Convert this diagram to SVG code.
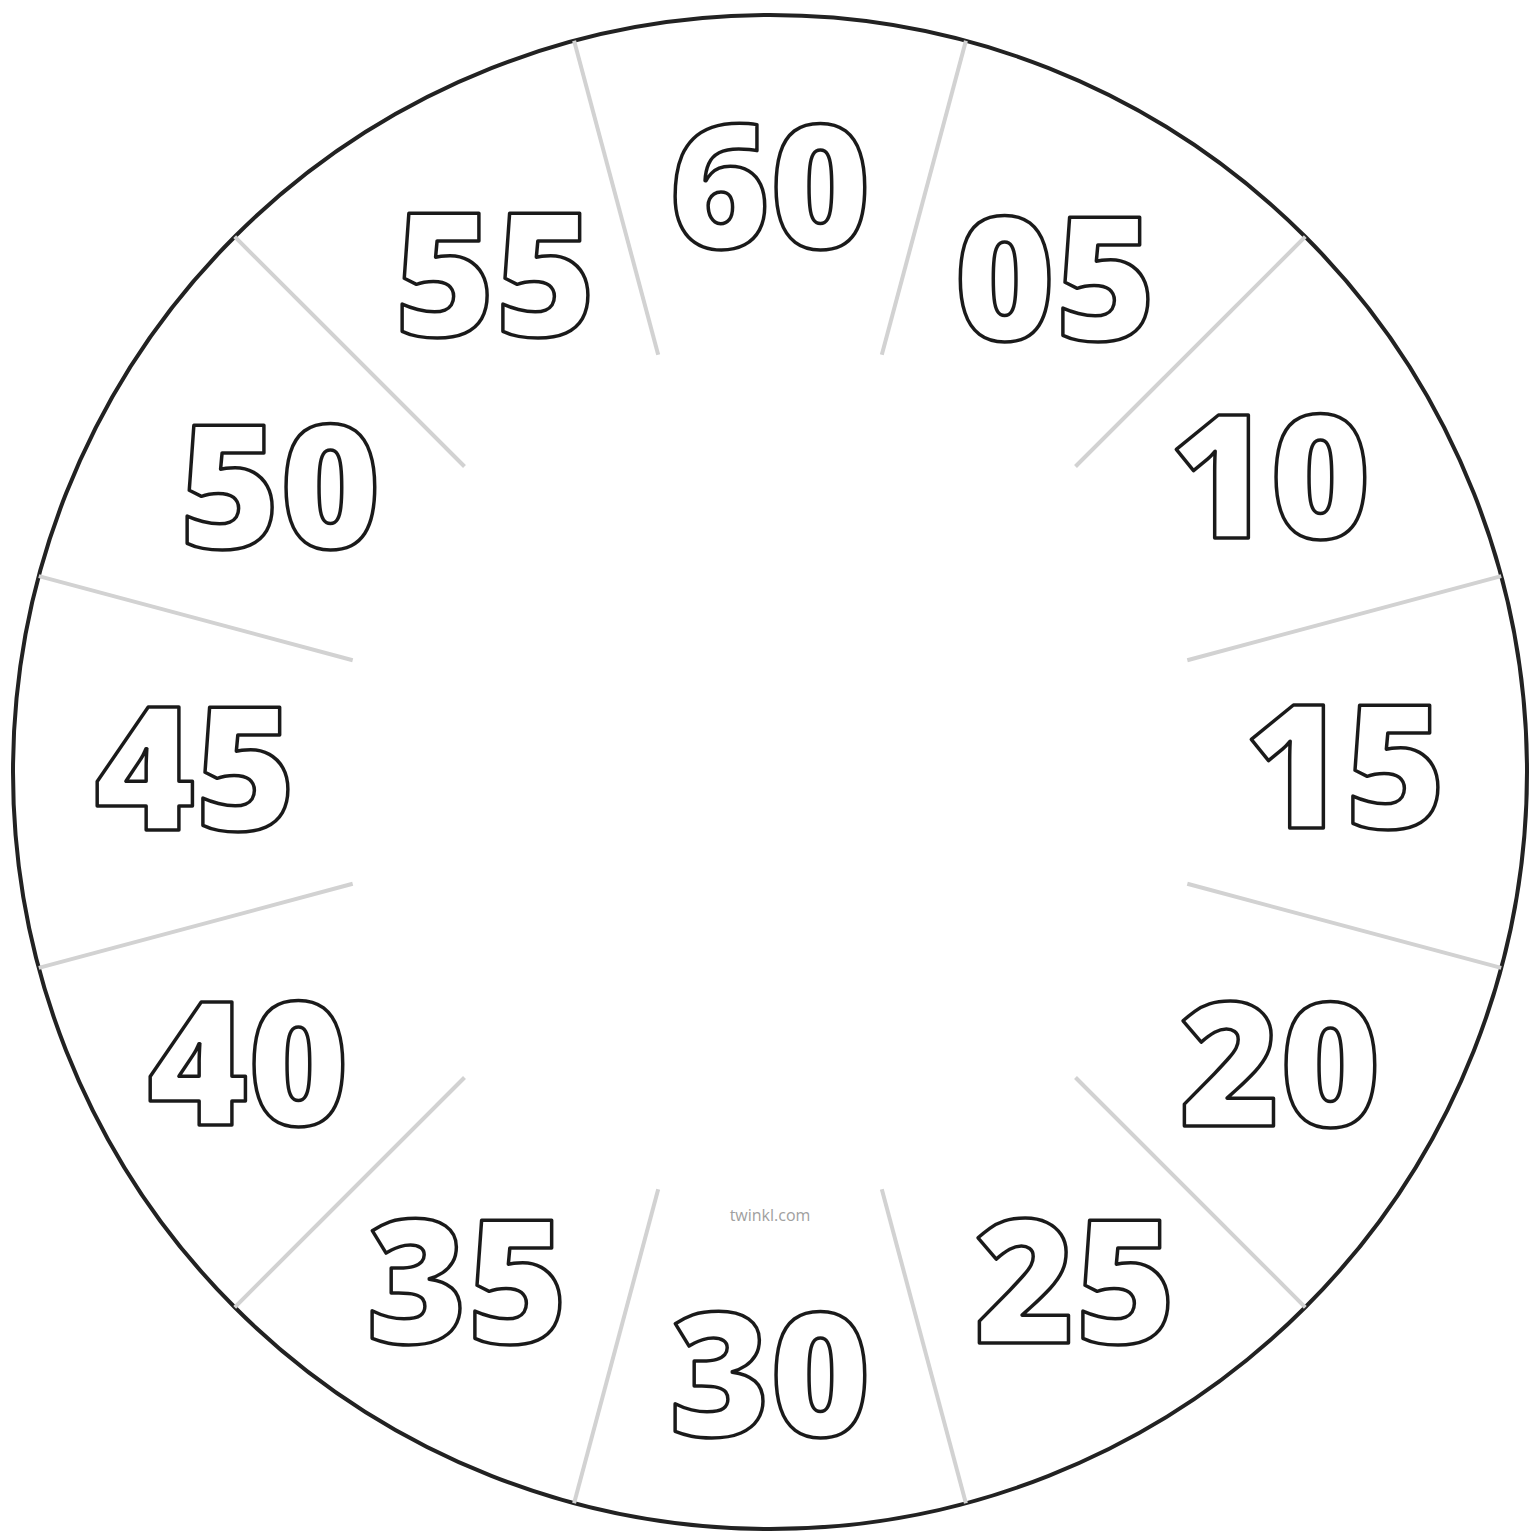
<svg xmlns="http://www.w3.org/2000/svg" width="1531" height="1531" viewBox="0 0 1531 1531">
<style>
.num{font-family:"Open Sans","Noto Sans",sans-serif;font-weight:800;font-size:172px;fill:#fff;stroke:#1a1a1a;stroke-width:3.5;stroke-linejoin:round;text-anchor:middle}
.div{stroke:#d2d2d2;stroke-width:4;stroke-linecap:butt}
.logo{font-family:"Open Sans","Noto Sans",sans-serif;font-size:16px;fill:#a0a0a0;text-anchor:middle}
</style>
<rect width="1531" height="1531" fill="#fff"/>
<g id="face">
<circle cx="770" cy="772" r="757" fill="#fff" stroke="#222" stroke-width="4"/>
</g>
<g id="connectors">
<line class="div" x1="658.2" y1="354.7" x2="574.1" y2="40.8"/>
<line class="div" x1="881.8" y1="354.7" x2="965.9" y2="40.8"/>
<line class="div" x1="464.5" y1="466.5" x2="234.7" y2="236.7"/>
<line class="div" x1="1075.5" y1="466.5" x2="1305.3" y2="236.7"/>
<line class="div" x1="352.7" y1="660.2" x2="38.8" y2="576.1"/>
<line class="div" x1="1187.3" y1="660.2" x2="1501.2" y2="576.1"/>
<line class="div" x1="352.7" y1="883.8" x2="38.8" y2="967.9"/>
<line class="div" x1="1187.3" y1="883.8" x2="1501.2" y2="967.9"/>
<line class="div" x1="464.5" y1="1077.5" x2="234.7" y2="1307.3"/>
<line class="div" x1="1075.5" y1="1077.5" x2="1305.3" y2="1307.3"/>
<line class="div" x1="658.2" y1="1189.3" x2="574.1" y2="1503.2"/>
<line class="div" x1="881.8" y1="1189.3" x2="965.9" y2="1503.2"/>
</g>
<g id="n60"><text class="num" x="770" y="248">60</text></g>
<g id="n05"><text class="num" x="1055" y="340">05</text></g>
<g id="n10"><text class="num" x="1270" y="538">10</text></g>
<g id="n15"><text class="num" x="1345" y="828">15</text></g>
<g id="n20"><text class="num" x="1280" y="1126">20</text></g>
<g id="n25"><text class="num" x="1075" y="1343">25</text></g>
<g id="n30"><text class="num" x="770" y="1436">30</text></g>
<g id="n35"><text class="num" x="467" y="1343">35</text></g>
<g id="n40"><text class="num" x="248" y="1125">40</text></g>
<g id="n45"><text class="num" x="195" y="830">45</text></g>
<g id="n50"><text class="num" x="280" y="548">50</text></g>
<g id="n55"><text class="num" x="495" y="336">55</text></g>
<g id="logo"><text class="logo" x="770" y="1221">twinkl.com</text></g>
</svg>
